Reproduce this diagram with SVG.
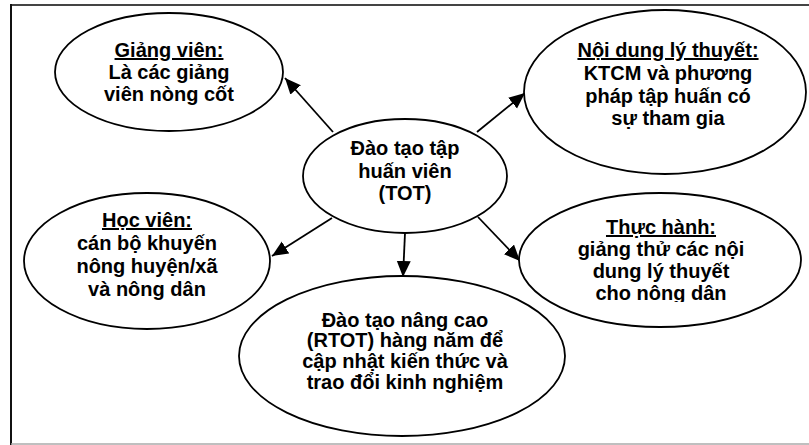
<svg xmlns="http://www.w3.org/2000/svg" width="809" height="445" viewBox="0 0 809 445">
<style>
.node ellipse{fill:#fff;stroke:#000;stroke-width:1.8}
.node text{font-family:"Liberation Sans",Arial,sans-serif;font-weight:bold;font-size:20px;fill:#000;text-anchor:middle}
.u{text-decoration:underline}
#connectors line{stroke:#000;stroke-width:1.8;marker-end:url(#ah)}
</style>
<defs>
<marker id="ah" markerUnits="userSpaceOnUse" markerWidth="17" markerHeight="15" refX="16" refY="7" orient="auto">
<path d="M0,0 L16,7 L0,14 Z" fill="#000"/>
</marker>
<clipPath id="clipTH"><rect x="500" y="190" width="300" height="112"/></clipPath>
</defs>
<rect width="809" height="445" fill="#fff"/>
<g id="frame">
<line x1="11" y1="5" x2="809" y2="5" stroke="#444" stroke-width="2"/>
<line x1="11" y1="4" x2="11" y2="445" stroke="#111" stroke-width="2"/>
<line x1="11" y1="444" x2="809" y2="444" stroke="#aaa" stroke-width="1.5"/>
</g>
<g id="connectors">
<line x1="333" y1="132" x2="285" y2="78"/>
<line x1="477" y1="132" x2="525" y2="93"/>
<line x1="332" y1="218" x2="272" y2="256"/>
<line x1="405" y1="233" x2="403" y2="277"/>
<line x1="478" y1="217" x2="520" y2="261"/>
</g>
<g id="giangvien" class="node">
<ellipse cx="169" cy="72" rx="114" ry="59"/>
<text x="169" y="57"><tspan class="u">Giảng viên:</tspan><tspan x="169" y="79">Là các giảng</tspan><tspan x="169" y="101">viên nòng cốt</tspan></text>
</g>
<g id="noidung" class="node">
<ellipse cx="665" cy="92" rx="141" ry="82"/>
<text x="668" y="57"><tspan class="u">Nội dung lý thuyết:</tspan><tspan x="668" y="80">KTCM và phương</tspan><tspan x="668" y="103">pháp tập huấn có</tspan><tspan x="668" y="125">sự tham gia</tspan></text>
</g>
<g id="tot" class="node">
<ellipse cx="405" cy="176" rx="102" ry="57"/>
<text x="405" y="155"><tspan>Đào tạo tập</tspan><tspan x="405" y="178">huấn viên</tspan><tspan x="405" y="200">(TOT)</tspan></text>
</g>
<g id="hocvien" class="node">
<ellipse cx="147" cy="261" rx="123" ry="68"/>
<text x="147" y="227"><tspan class="u">Học viên:</tspan><tspan x="147" y="250">cán bộ khuyến</tspan><tspan x="147" y="273">nông huyện/xã</tspan><tspan x="147" y="296">và nông dân</tspan></text>
</g>
<g id="thuchanh" class="node">
<ellipse cx="660" cy="260" rx="141" ry="67"/>
<text x="661" y="234" clip-path="url(#clipTH)"><tspan class="u">Thực hành:</tspan><tspan x="661" y="256">giảng thử các nội</tspan><tspan x="661" y="278">dung lý thuyết</tspan><tspan x="661" y="300">cho nông dân</tspan></text>
</g>
<g id="nangcao" class="node">
<ellipse cx="402" cy="356" rx="163" ry="80"/>
<text x="405" y="327"><tspan>Đào tạo nâng cao</tspan><tspan x="405" y="347">(RTOT) hàng năm để</tspan><tspan x="405" y="368">cập nhật kiến thức và</tspan><tspan x="405" y="389">trao đổi kinh nghiệm</tspan></text>
</g>
</svg>
